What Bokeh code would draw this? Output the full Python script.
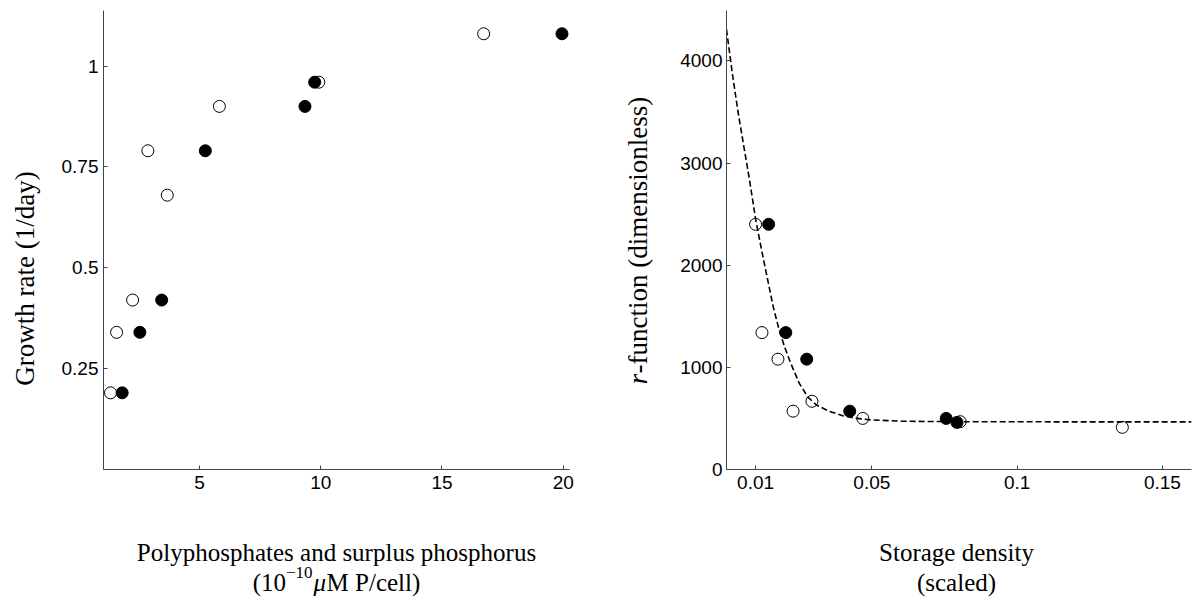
from math import pi
from bokeh.plotting import figure
from bokeh.layouts import row, column
from bokeh.models import FixedTicker, Range1d, CustomJSTickFormatter
from bokeh.core.properties import value
from bokeh.embed import file_html
from bokeh.resources import INLINE

# ---- left panel: growth rate vs polyphosphates ----
poly_open_x = [1.33, 1.58, 2.24, 2.87, 3.67, 5.82, 9.92, 16.72]
poly_open_y = [0.19, 0.34, 0.42, 0.79, 0.68, 0.90, 0.96, 1.08]
poly_filled_x = [1.81, 2.54, 3.44, 5.24, 9.35, 9.75, 19.95]
poly_filled_y = [0.19, 0.34, 0.42, 0.79, 0.90, 0.96, 1.08]
left_xticks = [5, 10, 15, 20]
left_yticks = [0.25, 0.5, 0.75, 1]

# ---- right panel: r-function vs storage density ----
stor_open_x = [0.0100, 0.0122, 0.0177, 0.0229, 0.0294, 0.0469, 0.0804, 0.1362]
stor_open_y = [2400, 1340, 1080, 571, 668, 500, 468, 413]
stor_filled_x = [0.0145, 0.0204, 0.0276, 0.0424, 0.0756, 0.0793]
stor_filled_y = [2400, 1340, 1080, 571, 500, 461]
fit_x = [0.0, 0.002, 0.004, 0.006, 0.008, 0.010, 0.012, 0.014, 0.016, 0.018,
         0.020, 0.022, 0.025, 0.028, 0.031, 0.035, 0.040, 0.045, 0.050, 0.060,
         0.070, 0.080, 0.100, 0.130, 0.160]
fit_y = [4308, 3878, 3494, 3156, 2821, 2453, 2159, 1881, 1602, 1378,
         1199, 1048, 845, 709, 631, 573, 526, 500, 485, 473,
         470, 468, 467, 466, 466]
right_xticks = [0.01, 0.05, 0.1, 0.15]
right_yticks = [0, 1000, 2000, 3000, 4000]

TICK_FONT = "Liberation Sans"
LABEL_FONT = "Liberation Serif"
LP = 25          # x-label font size, px
YP = 27          # y-label font size, px
SP = 17          # superscript font size, px
AXIS_COLOR = "#444444"
TOP_H = 500
BOT_H = 100


def style_axis(ax):
    ax.axis_line_color = AXIS_COLOR
    ax.axis_line_width = 1
    ax.major_tick_line_color = AXIS_COLOR
    ax.major_tick_in = 4
    ax.major_tick_out = 0
    ax.minor_tick_line_color = None
    ax.major_label_text_font = TICK_FONT
    ax.major_label_text_font_size = "19px"
    ax.major_label_text_color = "black"


def plot_fig(width, bl, bt, br, xr, yr):
    p = figure(width=width, height=TOP_H, output_backend="svg", toolbar_location=None,
               title=None, x_range=xr, y_range=yr,
               min_border_left=bl, min_border_right=br,
               min_border_top=bt, min_border_bottom=TOP_H - 469)
    p.outline_line_color = None
    p.xgrid.grid_line_color = None
    p.ygrid.grid_line_color = None
    return p


def text_fig(width, height):
    p = figure(width=width, height=height, output_backend="svg", toolbar_location=None,
               title=None, x_range=Range1d(0, width), y_range=Range1d(0, height),
               x_axis_location=None, y_axis_location=None, min_border=0)
    p.outline_line_color = None
    for g in p.grid:
        g.visible = False
    return p


def put(p, x, y, txt, size=LP, style="normal", align="left", angle=0.0):
    p.text(x=[x], y=[y], text=[txt], angle=angle, text_align=align,
           text_baseline="alphabetic", text_font=value(LABEL_FONT),
           text_font_size=value(f"{size}px"), text_font_style=style, text_color="black")


fmt = CustomJSTickFormatter(code="return String(tick);")

# ---------------- left plot ----------------
pl = plot_fig(550, 53, 10, 31, Range1d(1.04, 20.26), Range1d(0, 1.1377))
pl.xaxis.ticker = FixedTicker(ticks=left_xticks)
pl.yaxis.ticker = FixedTicker(ticks=left_yticks)
pl.xaxis.formatter = fmt
pl.yaxis.formatter = fmt
style_axis(pl.xaxis[0])
style_axis(pl.yaxis[0])
pl.xaxis.major_label_standoff = 6
pl.yaxis.major_label_standoff = 5
pl.scatter(poly_open_x, poly_open_y, size=12, fill_color="white", line_color="black", line_width=1)
pl.scatter(poly_filled_x, poly_filled_y, size=12, fill_color="black", line_color="black", line_width=1)

# ---------------- right plot ----------------
pr = plot_fig(538, 66, 4, 7, Range1d(0, 0.16), Range1d(0, 4493))
pr.xaxis.ticker = FixedTicker(ticks=right_xticks)
pr.yaxis.ticker = FixedTicker(ticks=right_yticks)
pr.xaxis.formatter = fmt
pr.yaxis.formatter = fmt
style_axis(pr.xaxis[0])
style_axis(pr.yaxis[0])
pr.xaxis.major_label_standoff = 6
pr.yaxis.major_label_standoff = 4
pr.scatter(stor_open_x, stor_open_y, size=12, fill_color="white", line_color="black", line_width=1)
pr.scatter(stor_filled_x, stor_filled_y, size=12, fill_color="black", line_color="black", line_width=1)
pr.line(fit_x, fit_y, line_color="black", line_width=1.6, line_dash="6 3")

# ---------------- y-axis titles ----------------
tl = text_fig(50, TOP_H)
put(tl, 24, TOP_H - 292, "Growth rate (1/day)", size=YP, align="center", angle=pi / 2)

tr = text_fig(60, TOP_H)
r_start = TOP_H - 407
put(tr, 37, r_start, "r", size=YP, style="italic", angle=pi / 2)
put(tr, 37, r_start + 0.389 * YP + 1, "-function (dimensionless)", size=YP, angle=pi / 2)

# ---------------- x-axis titles ----------------
tb = text_fig(1198, BOT_H)
left_cx = 336
right_cx = 956
line1_y = 48
line2_y = 18
put(tb, left_cx, line1_y, "Polyphosphates and surplus phosphorus", align="center")
w_open = (0.333 + 0.5 + 0.5) * LP
w_sup = (0.564 + 0.5 + 0.5) * SP
w_mu = 0.52 * LP
w_rest = (0.889 + 0.25 + 0.556 + 0.278 + 0.444 + 0.444 + 0.278 + 0.278 + 0.333) * LP
x0 = left_cx - (w_open + w_sup + 1 + w_mu + w_rest) / 2
put(tb, x0, line2_y, "(10")
put(tb, x0 + w_open, line2_y + 10, "\u221210", size=SP)
put(tb, x0 + w_open + w_sup + 1, line2_y, "\u03bc", style="italic")
put(tb, x0 + w_open + w_sup + 1 + w_mu, line2_y, "M P/cell)")
put(tb, right_cx, line1_y, "Storage density", align="center")
put(tb, right_cx, line2_y, "(scaled)", align="center")

layout = column(row(tl, pl, tr, pr), tb)
open("out.html", "w").write(file_html(layout, INLINE))
